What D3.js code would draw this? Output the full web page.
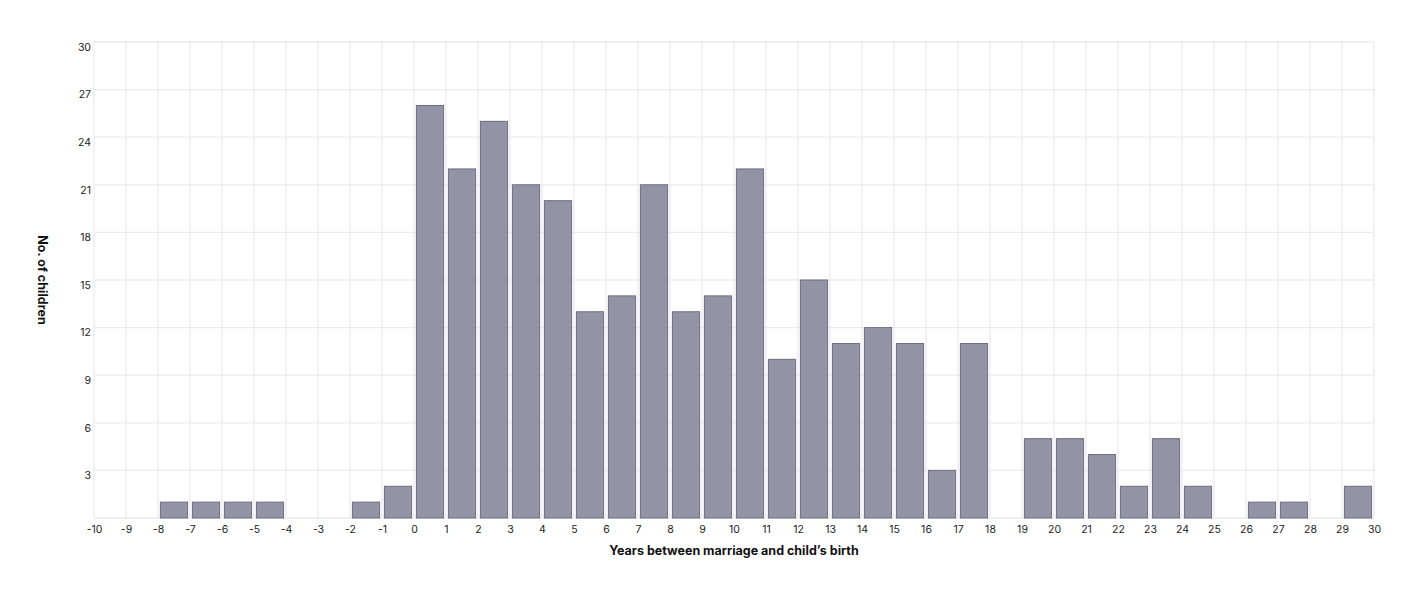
<!DOCTYPE html>
<html>
<head>
<meta charset="utf-8">
<script src="https://cdn.jsdelivr.net/npm/d3@7"></script>
<style>
  html, body { margin: 0; padding: 0; background: #fff; }
  svg { display: block; font-family: Inter, "Noto Sans", sans-serif; }
</style>
</head>
<body>
<svg id="chart" width="1414" height="594"></svg>
<script>
// Bin start (years between marriage and child's birth) and counts
const binStarts = [-8, -7, -6, -5, -2, -1, 0, 1, 2, 3, 4, 5, 6, 7, 8, 9, 10, 11, 12, 13, 14, 15, 16, 17, 19, 20, 21, 22, 23, 24, 26, 27, 29];
const counts    = [ 1,  1,  1,  1,  1,  2, 26, 22, 25, 21, 20, 13, 14, 21, 13, 14, 22, 10, 15, 11, 12, 11,  3, 11,  5,  5,  4,  2,  5,  2,  1,  1,  2];
const xTicks = d3.range(-10, 31, 1);
const yTicks = [3, 6, 9, 12, 15, 18, 21, 24, 27, 30];
const xTitle = "Years between marriage and child\u2019s birth";
const yTitle = "No. of children";

const margin = { left: 94, right: 40, top: 42, bottom: 76 };
const W = 1414, H = 594;
const svg = d3.select("#chart");

const x = d3.scaleLinear().domain([-10, 30]).range([margin.left, W - margin.right]);
const y = d3.scaleLinear().domain([0, 30]).range([H - margin.bottom, margin.top]);

const grid = svg.append("g");
// vertical grid
grid.selectAll("line.v").data(xTicks).join("line")
  .attr("x1", d => x(d)).attr("x2", d => x(d))
  .attr("y1", y(30)).attr("y2", y(0))
  .attr("stroke", "#ebebeb").attr("stroke-width", 1.3);
// horizontal grid
grid.selectAll("line.h").data([0].concat(yTicks)).join("line")
  .attr("x1", x(-10)).attr("x2", x(30))
  .attr("y1", d => y(d)).attr("y2", d => y(d))
  .attr("stroke", "#ebebeb").attr("stroke-width", 1.3);

// bars
const unit = x(1) - x(0);
const inset = 2.4;
svg.append("g").selectAll("rect").data(binStarts.map((b, i) => ({ b, v: counts[i] }))).join("rect")
  .attr("x", d => x(d.b) + inset)
  .attr("width", unit - 2 * inset)
  .attr("y", d => y(d.v))
  .attr("height", d => y(0) - y(d.v))
  .attr("fill", "#9393a8")
  .attr("stroke", "#6e6e82")
  .attr("stroke-width", 1);

// x axis labels
const xAxis = d3.axisBottom(x).tickValues(xTicks).tickFormat(d3.format("d")).tickSize(0).tickPadding(8);
const gx = svg.append("g").attr("transform", `translate(0,${y(0)})`).call(xAxis);
gx.select(".domain").remove();
gx.selectAll("text").attr("font-size", 10.5).attr("fill", "#222").attr("font-family", "Inter, sans-serif")
  .text(d => String(d));

// y axis labels
const yAxis = d3.axisLeft(y).tickValues(yTicks).tickFormat(d3.format("d")).tickSize(0).tickPadding(3);
const gy = svg.append("g").attr("transform", `translate(${x(-10)},0)`).call(yAxis);
gy.select(".domain").remove();
gy.selectAll("text").attr("font-size", 10.5).attr("fill", "#222").attr("font-family", "Inter, sans-serif")
  .attr("dy", "0.78em");

// titles
svg.append("text")
  .attr("x", (x(-10) + x(30)) / 2).attr("y", 555)
  .attr("text-anchor", "middle").attr("font-size", 12.5).attr("font-weight", 700).attr("fill", "#111")
  .text(xTitle);
svg.append("text")
  .attr("transform", `translate(38,${(y(0) + y(30)) / 2}) rotate(90)`)
  .attr("text-anchor", "middle").attr("font-size", 12.5).attr("font-weight", 700).attr("fill", "#111")
  .text(yTitle);
</script>
</body>
</html>
